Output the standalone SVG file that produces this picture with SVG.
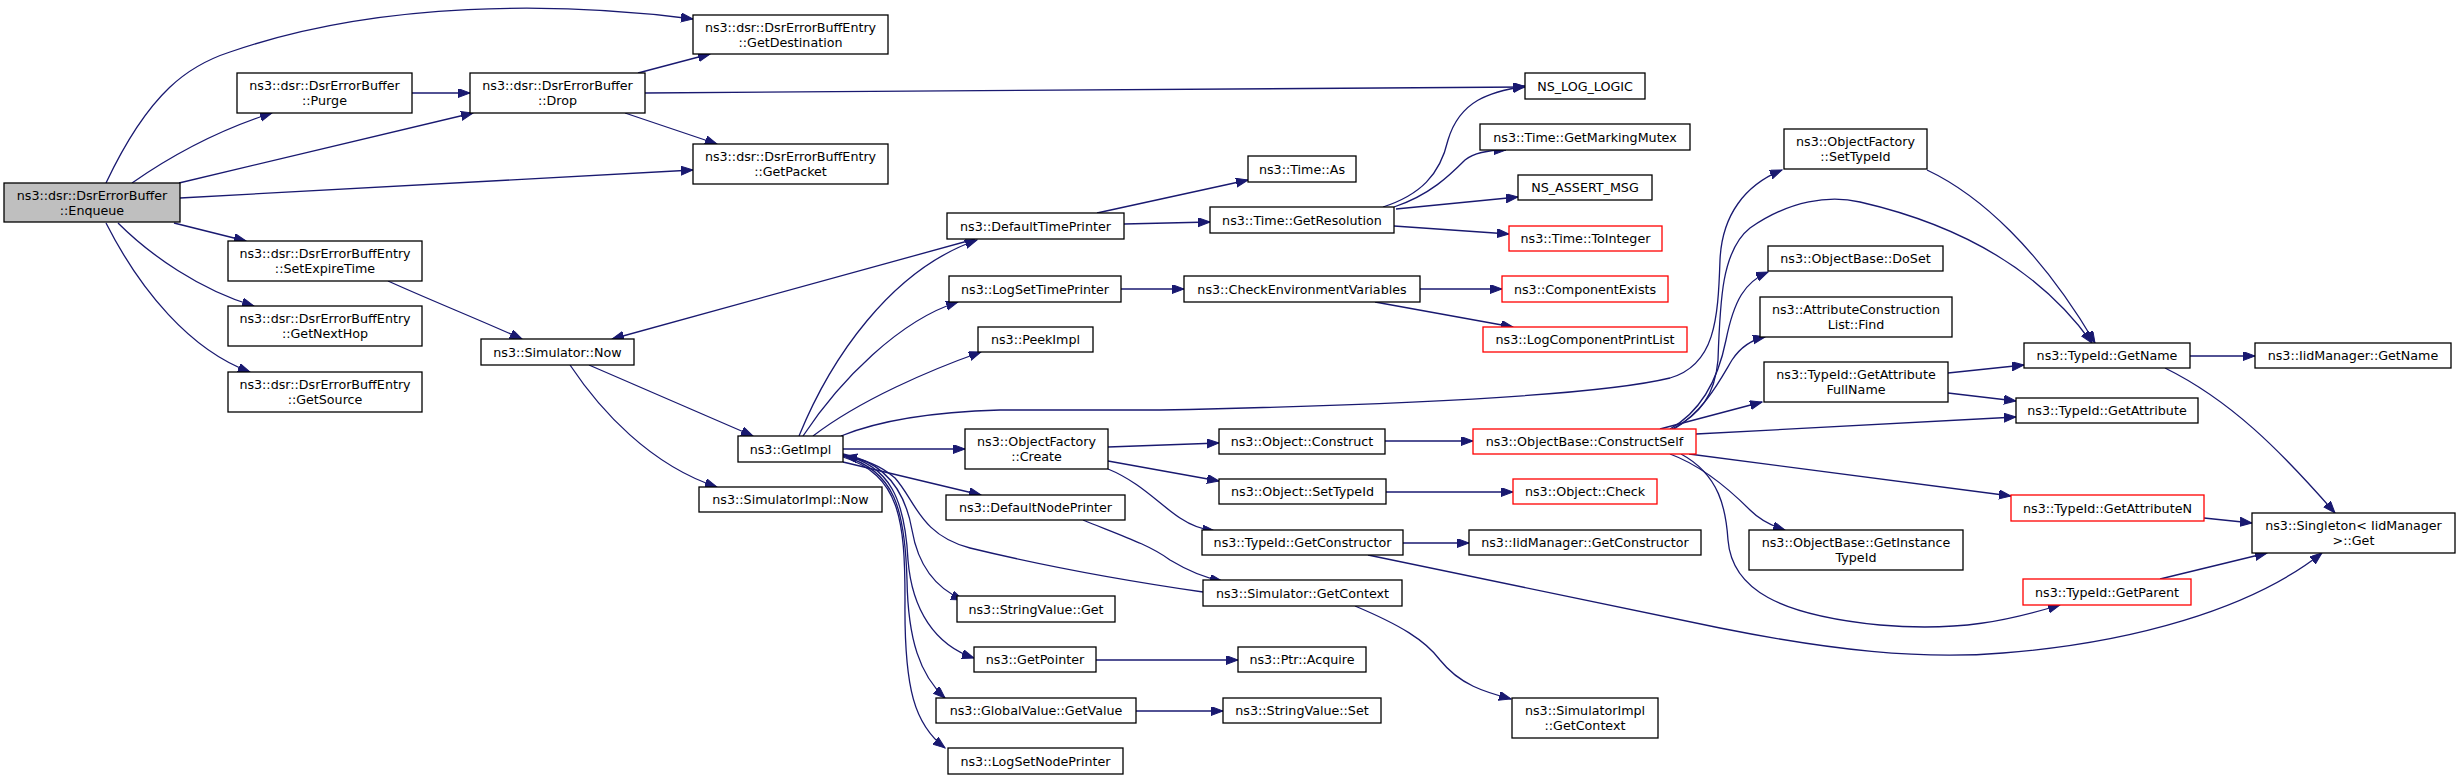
<svg xmlns="http://www.w3.org/2000/svg" width="2460" height="780" viewBox="0 0 2460 780">
<defs>
<style>
.n rect{fill:#fff;stroke:#000;stroke-width:1.3}
.n.r rect{stroke:#ff0000}
.n.g rect{fill:#bfbfbf}
.n text{font-family:"DejaVu Sans","Liberation Sans",sans-serif;font-size:12.7px;text-anchor:middle;fill:#000}
#edges path{fill:none;stroke:#191970;stroke-width:1.3;marker-end:url(#a)}
</style>
<marker id="a" markerUnits="userSpaceOnUse" markerWidth="13" markerHeight="10" refX="12" refY="4.5" orient="auto">
<path d="M0,0 L12,4.5 L0,9 z" fill="#191970" stroke="#191970" stroke-width="1"/>
</marker>
</defs>
<rect width="2460" height="780" fill="#fff"/>
<g id="edges">
<path d="M106,183 C150,90 190,65 230,52 C380,0 560,2 693,19"/>
<path d="M132,183 C175,153 225,128 272,113"/>
<path d="M179,183 L473,113"/>
<path d="M180,198 L693,170"/>
<path d="M174,223 L246,241"/>
<path d="M118,223 C150,255 200,290 254,306"/>
<path d="M106,223 C140,290 190,350 250,372"/>
<path d="M412,93 L470,93"/>
<path d="M638,73 L710,54"/>
<path d="M645,93 L1525,87"/>
<path d="M625,113 L717,144"/>
<path d="M388,281 C430,300 480,320 522,339"/>
<path d="M589,365 L753,436"/>
<path d="M570,365 C600,410 650,465 717,487"/>
<path d="M975,239 L612,339"/>
<path d="M799,436 C830,360 890,270 977,240"/>
<path d="M803,436 C840,380 900,320 958,302"/>
<path d="M813,436 C860,400 930,370 981,352"/>
<path d="M841,436 C880,420 930,412 1000,410 L1160,410 C1400,405 1600,395 1670,378 C1715,365 1718,320 1720,260 C1722,215 1745,185 1782,170"/>
<path d="M843,449 L965,449"/>
<path d="M843,462 L981,495"/>
<path d="M1203,592 C1120,580 1040,565 970,548 C920,535 915,500 895,478 C880,465 865,460 845,456"/>
<path d="M843,454 C885,462 905,490 912,530 C918,565 935,588 963,600"/>
<path d="M843,455 C890,465 905,500 908,560 C912,610 935,645 974,658"/>
<path d="M843,456 C895,470 905,510 907,580 C908,640 920,675 945,698"/>
<path d="M843,457 C900,475 905,520 905,600 C904,690 915,725 945,748"/>
<path d="M1108,447 L1219,443"/>
<path d="M1108,461 L1219,481"/>
<path d="M1108,469 C1140,482 1160,505 1180,518 C1192,526 1205,530 1215,531"/>
<path d="M1083,520 C1120,535 1150,545 1170,560 C1190,572 1205,578 1222,581"/>
<path d="M1403,543 L1469,543"/>
<path d="M1385,441 L1473,441"/>
<path d="M1386,492 L1513,492"/>
<path d="M1355,606 C1400,625 1425,640 1440,660 C1460,685 1485,692 1511,699"/>
<path d="M1096,660 L1238,660"/>
<path d="M1136,711 L1223,711"/>
<path d="M1368,555 L1720,628 C1830,650 1920,660 2003,653 C2130,643 2250,610 2322,553"/>
<path d="M1097,213 L1248,180"/>
<path d="M1124,224 L1210,222"/>
<path d="M1383,207 C1420,195 1440,175 1448,140 C1460,100 1490,92 1525,86"/>
<path d="M1394,207 C1430,195 1450,175 1465,160 C1475,152 1490,150 1506,150"/>
<path d="M1396,209 L1518,197"/>
<path d="M1394,226 L1509,234"/>
<path d="M1121,289 L1184,289"/>
<path d="M1420,289 L1502,289"/>
<path d="M1375,302 L1513,327"/>
<path d="M1672,429 C1700,415 1715,395 1718,360 C1720,300 1722,250 1750,228 C1790,200 1830,195 1860,202 C1960,225 2040,270 2092,343"/>
<path d="M1670,429 C1700,412 1718,380 1726,340 C1734,300 1745,282 1768,272"/>
<path d="M1674,429 C1705,410 1720,380 1732,360 C1740,348 1750,340 1765,337"/>
<path d="M1660,429 L1762,402"/>
<path d="M1696,434 L2016,417"/>
<path d="M1689,454 L2011,496"/>
<path d="M1670,454 C1700,465 1730,490 1750,510 C1760,520 1772,526 1785,530"/>
<path d="M1681,454 C1720,475 1726,510 1728,540 C1732,590 1780,615 1880,625 C1960,632 2010,620 2060,605"/>
<path d="M1948,373 L2024,365"/>
<path d="M1948,393 L2016,401"/>
<path d="M1927,170 C1980,195 2040,250 2095,343"/>
<path d="M2190,356 L2255,356"/>
<path d="M2165,368 C2230,400 2280,450 2335,513"/>
<path d="M2204,518 L2252,523"/>
<path d="M2160,579 L2267,553"/>
</g>
<g id="n1" class="n g"><rect x="4" y="183" width="176" height="39"/><text x="92" y="199.5">ns3::dsr::DsrErrorBuffer</text><text x="92" y="214.5">::Enqueue</text></g>
<g id="n2" class="n"><rect x="693" y="15" width="195" height="39"/><text x="790.5" y="31.5">ns3::dsr::DsrErrorBuffEntry</text><text x="790.5" y="46.5">::GetDestination</text></g>
<g id="n3" class="n"><rect x="237" y="73" width="175" height="40"/><text x="324.5" y="90">ns3::dsr::DsrErrorBuffer</text><text x="324.5" y="105">::Purge</text></g>
<g id="n4" class="n"><rect x="470" y="73" width="175" height="40"/><text x="557.5" y="90">ns3::dsr::DsrErrorBuffer</text><text x="557.5" y="105">::Drop</text></g>
<g id="n5" class="n"><rect x="693" y="144" width="195" height="40"/><text x="790.5" y="161">ns3::dsr::DsrErrorBuffEntry</text><text x="790.5" y="176">::GetPacket</text></g>
<g id="n6" class="n"><rect x="228" y="241" width="194" height="40"/><text x="325" y="258">ns3::dsr::DsrErrorBuffEntry</text><text x="325" y="273">::SetExpireTime</text></g>
<g id="n7" class="n"><rect x="228" y="306" width="194" height="40"/><text x="325" y="323">ns3::dsr::DsrErrorBuffEntry</text><text x="325" y="338">::GetNextHop</text></g>
<g id="n8" class="n"><rect x="228" y="372" width="194" height="40"/><text x="325" y="389">ns3::dsr::DsrErrorBuffEntry</text><text x="325" y="404">::GetSource</text></g>
<g id="n9" class="n"><rect x="481" y="339" width="153" height="26"/><text x="557.5" y="356.5">ns3::Simulator::Now</text></g>
<g id="n10" class="n"><rect x="1525" y="73" width="120" height="26"/><text x="1585" y="90.5">NS_LOG_LOGIC</text></g>
<g id="n11" class="n"><rect x="1480" y="124" width="210" height="26"/><text x="1585" y="141.5">ns3::Time::GetMarkingMutex</text></g>
<g id="n12" class="n"><rect x="1248" y="156" width="108" height="26"/><text x="1302" y="173.5">ns3::Time::As</text></g>
<g id="n13" class="n"><rect x="1518" y="175" width="134" height="25"/><text x="1585" y="192">NS_ASSERT_MSG</text></g>
<g id="n14" class="n"><rect x="947" y="213" width="177" height="26"/><text x="1035.5" y="230.5">ns3::DefaultTimePrinter</text></g>
<g id="n15" class="n"><rect x="1210" y="207" width="184" height="26"/><text x="1302" y="224.5">ns3::Time::GetResolution</text></g>
<g id="n16" class="n r"><rect x="1509" y="226" width="153" height="25"/><text x="1585.5" y="243">ns3::Time::ToInteger</text></g>
<g id="n17" class="n"><rect x="949" y="276" width="172" height="26"/><text x="1035" y="293.5">ns3::LogSetTimePrinter</text></g>
<g id="n18" class="n"><rect x="1184" y="276" width="236" height="26"/><text x="1302" y="293.5">ns3::CheckEnvironmentVariables</text></g>
<g id="n19" class="n r"><rect x="1502" y="276" width="166" height="26"/><text x="1585" y="293.5">ns3::ComponentExists</text></g>
<g id="n20" class="n r"><rect x="1483" y="327" width="204" height="25"/><text x="1585" y="344">ns3::LogComponentPrintList</text></g>
<g id="n21" class="n"><rect x="978" y="327" width="115" height="25"/><text x="1035.5" y="344">ns3::PeekImpl</text></g>
<g id="n22" class="n"><rect x="738" y="436" width="105" height="26"/><text x="790.5" y="453.5">ns3::GetImpl</text></g>
<g id="n23" class="n"><rect x="699" y="487" width="183" height="25"/><text x="790.5" y="504">ns3::SimulatorImpl::Now</text></g>
<g id="n24" class="n"><rect x="965" y="429" width="143" height="40"/><text x="1036.5" y="446">ns3::ObjectFactory</text><text x="1036.5" y="461">::Create</text></g>
<g id="n25" class="n"><rect x="946" y="495" width="179" height="25"/><text x="1035.5" y="512">ns3::DefaultNodePrinter</text></g>
<g id="n26" class="n"><rect x="957" y="596" width="158" height="26"/><text x="1036" y="613.5">ns3::StringValue::Get</text></g>
<g id="n27" class="n"><rect x="974" y="647" width="122" height="25"/><text x="1035" y="664">ns3::GetPointer</text></g>
<g id="n28" class="n"><rect x="936" y="698" width="200" height="25"/><text x="1036" y="715">ns3::GlobalValue::GetValue</text></g>
<g id="n29" class="n"><rect x="948" y="748" width="175" height="26"/><text x="1035.5" y="765.5">ns3::LogSetNodePrinter</text></g>
<g id="n30" class="n"><rect x="1219" y="429" width="166" height="25"/><text x="1302" y="446">ns3::Object::Construct</text></g>
<g id="n31" class="n r"><rect x="1473" y="429" width="223" height="25"/><text x="1584.5" y="446">ns3::ObjectBase::ConstructSelf</text></g>
<g id="n32" class="n"><rect x="1219" y="479" width="167" height="25"/><text x="1302.5" y="496">ns3::Object::SetTypeId</text></g>
<g id="n33" class="n r"><rect x="1513" y="479" width="144" height="25"/><text x="1585" y="496">ns3::Object::Check</text></g>
<g id="n34" class="n"><rect x="1202" y="530" width="201" height="25"/><text x="1302.5" y="547">ns3::TypeId::GetConstructor</text></g>
<g id="n35" class="n"><rect x="1469" y="530" width="232" height="25"/><text x="1585" y="547">ns3::IidManager::GetConstructor</text></g>
<g id="n36" class="n"><rect x="1203" y="580" width="199" height="26"/><text x="1302.5" y="597.5">ns3::Simulator::GetContext</text></g>
<g id="n37" class="n"><rect x="1238" y="647" width="128" height="25"/><text x="1302" y="664">ns3::Ptr::Acquire</text></g>
<g id="n38" class="n"><rect x="1223" y="698" width="158" height="25"/><text x="1302" y="715">ns3::StringValue::Set</text></g>
<g id="n39" class="n"><rect x="1512" y="698" width="146" height="40"/><text x="1585" y="715">ns3::SimulatorImpl</text><text x="1585" y="730">::GetContext</text></g>
<g id="n40" class="n"><rect x="1784" y="129" width="143" height="40"/><text x="1855.5" y="146">ns3::ObjectFactory</text><text x="1855.5" y="161">::SetTypeId</text></g>
<g id="n41" class="n"><rect x="1768" y="246" width="175" height="25"/><text x="1855.5" y="263">ns3::ObjectBase::DoSet</text></g>
<g id="n42" class="n"><rect x="1760" y="297" width="192" height="40"/><text x="1856" y="314">ns3::AttributeConstruction</text><text x="1856" y="329">List::Find</text></g>
<g id="n43" class="n"><rect x="1764" y="362" width="184" height="40"/><text x="1856" y="379">ns3::TypeId::GetAttribute</text><text x="1856" y="394">FullName</text></g>
<g id="n44" class="n"><rect x="2024" y="343" width="166" height="25"/><text x="2107" y="360">ns3::TypeId::GetName</text></g>
<g id="n45" class="n"><rect x="2255" y="343" width="196" height="25"/><text x="2353" y="360">ns3::IidManager::GetName</text></g>
<g id="n46" class="n"><rect x="2016" y="398" width="182" height="25"/><text x="2107" y="415">ns3::TypeId::GetAttribute</text></g>
<g id="n47" class="n r"><rect x="2011" y="495" width="193" height="26"/><text x="2107.5" y="512.5">ns3::TypeId::GetAttributeN</text></g>
<g id="n48" class="n"><rect x="2252" y="513" width="203" height="40"/><text x="2353.5" y="530">ns3::Singleton&lt; IidManager</text><text x="2353.5" y="545">&gt;::Get</text></g>
<g id="n49" class="n"><rect x="1749" y="530" width="214" height="40"/><text x="1856" y="547">ns3::ObjectBase::GetInstance</text><text x="1856" y="562">TypeId</text></g>
<g id="n50" class="n r"><rect x="2023" y="579" width="168" height="26"/><text x="2107" y="596.5">ns3::TypeId::GetParent</text></g>
</svg>
